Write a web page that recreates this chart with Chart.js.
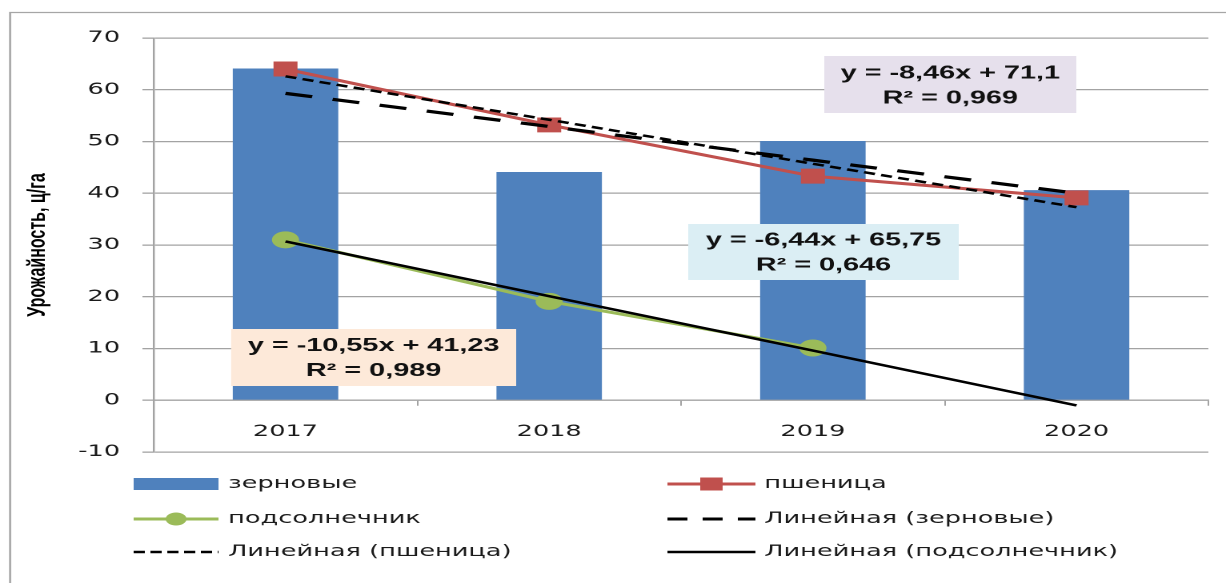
<!DOCTYPE html>
<html><head><meta charset="utf-8">
<script src="https://cdn.jsdelivr.net/npm/chart.js@4"></script>
<style>
html,body{margin:0;padding:0;background:#fff;overflow:hidden;}
#wrap{position:absolute;left:0;top:0;width:766px;height:583px;transform:scaleX(1.60052);transform-origin:0 0;}
</style></head><body>
<div id="wrap"><canvas id="c" width="766" height="583"></canvas></div>
<script>
// ---- data ----
const categories = ['2017', '2018', '2019', '2020'];
const grainValues = [64.1, 44.1, 50.1, 40.6];
const wheatValues = [64.0, 53.2, 43.3, 39.1];
const sunflowerValues = [31.0, 19.1, 10.1, null];
const grainTrend = [59.3, 52.9, 46.4, 40.0];
const wheatTrend = [62.6, 54.2, 45.7, 37.3];
const sunflowerTrend = [30.7, 20.1, 9.6, -1.0];
const yTicks = [-10, 0, 10, 20, 30, 40, 50, 60, 70];
const seriesNames = ['зерновые', 'пшеница', 'подсолнечник', 'Линейная (зерновые)', 'Линейная (пшеница)', 'Линейная (подсолнечник)'];
const wheatEquation = ['y = -8,46x + 71,1', 'R² = 0,969'];
const grainEquation = ['y = -6,44x + 65,75', 'R² = 0,646'];
const sunflowerEquation = ['y = -10,55x + 41,23', 'R² = 0,989'];
const axisTitle = 'Урожайность, ц/га';

const BLUE = '#4F81BD', RED = '#C0504D', GREEN = '#9BBB59', GRID = '#A3A3A3', TXT = '#1a1a1a';
const TICK_FONT = {family: 'DejaVu Sans', size: 16};

const overlay = {
  id: 'overlay',
  beforeDraw(chart) {
    const ctx = chart.ctx;
    ctx.save();
    ctx.strokeStyle = '#A6A6A6';
    ctx.lineWidth = 1.3;
    ctx.beginPath();
    ctx.moveTo(6.3, 600); ctx.lineTo(6.3, 12.5); ctx.lineTo(800, 12.5);
    ctx.stroke();
    ctx.restore();
  },
  afterDraw(chart) {
    const ctx = chart.ctx;
    ctx.save();
    // equation boxes
    const boxes = [
      {x1: 515, x2: 672.5, y1: 56, y2: 113, fill: '#E6E0EC', lines: wheatEquation, cy: [73.5, 98.5]},
      {x1: 430, x2: 599, y1: 224, y2: 280, fill: '#DBEEF4', lines: grainEquation, cy: [240.5, 265.5]},
      {x1: 144.4, x2: 322.5, y1: 329, y2: 386, fill: '#FDE9D9', lines: sunflowerEquation, cy: [346, 371]}
    ];
    boxes.forEach(b => {
      ctx.fillStyle = b.fill;
      ctx.fillRect(b.x1, b.y1, b.x2 - b.x1, b.y2 - b.y1);
      ctx.fillStyle = '#111';
      ctx.font = 'bold 18px "Liberation Sans", Arial, sans-serif';
      ctx.textAlign = 'center';
      ctx.textBaseline = 'middle';
      const cx = (b.x1 + b.x2) / 2;
      ctx.fillText(b.lines[0], cx, b.cy[0]);
      ctx.fillText(b.lines[1], cx, b.cy[1]);
    });
    // legend
    const rows = [484, 519, 552];
    const c1 = {x1: 83.5, x2: 136.5, tx: 142.5};
    const c2 = {x1: 417, x2: 472, tx: 477.5};
    function line(c, y, color, w, dash) {
      ctx.save();
      ctx.strokeStyle = color; ctx.lineWidth = w; ctx.setLineDash(dash || []);
      ctx.beginPath(); ctx.moveTo(c.x1, y); ctx.lineTo(c.x2, y); ctx.stroke();
      ctx.restore();
    }
    // 1 bars
    ctx.fillStyle = BLUE;
    ctx.fillRect(c1.x1, rows[0] - 6, c1.x2 - c1.x1, 12);
    // 2 wheat
    line(c2, rows[0], RED, 3);
    ctx.fillStyle = RED;
    ctx.fillRect((c2.x1 + c2.x2) / 2 - 7, rows[0] - 6.5, 14, 13);
    // 3 sunflower
    line(c1, rows[1], GREEN, 3);
    ctx.fillStyle = GREEN;
    ctx.beginPath(); ctx.arc((c1.x1 + c1.x2) / 2, rows[1], 6.5, 0, Math.PI * 2); ctx.fill();
    // 4 grain trend
    line(c2, rows[1], '#000', 3, [12.5, 9.5]);
    // 5 wheat trend
    line(c1, rows[2], '#000', 2.5, [7, 3.5]);
    // 6 sunflower trend
    line(c2, rows[2], '#000', 2.5);
    ctx.fillStyle = TXT;
    ctx.font = '16px "DejaVu Sans", sans-serif';
    ctx.textAlign = 'left';
    ctx.textBaseline = 'middle';
    ctx.fillText(seriesNames[0], c1.tx, rows[0]);
    ctx.fillText(seriesNames[1], c2.tx, rows[0]);
    ctx.fillText(seriesNames[2], c1.tx, rows[1]);
    ctx.fillText(seriesNames[3], c2.tx, rows[1]);
    ctx.fillText(seriesNames[4], c1.tx, rows[2]);
    ctx.fillText(seriesNames[5], c2.tx, rows[2]);
    ctx.restore();
  }
};

new Chart(document.getElementById('c'), {
  data: {
    labels: categories,
    datasets: [
      {type: 'line', label: seriesNames[5], data: sunflowerTrend, borderColor: '#000', borderWidth: 2.5,
       pointRadius: 0, fill: false, order: 1},
      {type: 'line', label: seriesNames[4], data: wheatTrend, borderColor: '#000', borderWidth: 2.5,
       borderDash: [7, 4], pointRadius: 0, fill: false, order: 2},
      {type: 'line', label: seriesNames[3], data: grainTrend, borderColor: '#000', borderWidth: 3.2,
       borderDash: [17, 13], pointRadius: 0, fill: false, order: 3},
      {type: 'line', label: seriesNames[2], data: sunflowerValues, borderColor: GREEN, backgroundColor: GREEN,
       borderWidth: 3, pointStyle: 'circle', pointRadius: 8.5, pointBorderWidth: 0, fill: false, order: 4, spanGaps: false},
      {type: 'line', label: seriesNames[1], data: wheatValues, borderColor: RED, backgroundColor: RED,
       borderWidth: 3, pointStyle: 'rect', pointRadius: 10.6, pointBorderWidth: 0, fill: false, order: 5},
      {type: 'bar', label: seriesNames[0], data: grainValues, backgroundColor: BLUE,
       barPercentage: 0.4, categoryPercentage: 1.0, order: 10}
    ]
  },
  options: {
    responsive: false,
    animation: false,
    devicePixelRatio: 2,
    layout: {padding: {left: 0, top: 38, right: 11, bottom: 131}},
    plugins: {legend: {display: false}, tooltip: {enabled: false}},
    scales: {
      x: {
        type: 'category',
        position: {y: 0},
        offset: true,
        grid: {display: true, drawOnChartArea: false, drawTicks: true, tickLength: 5, color: GRID, offset: true},
        border: {display: true, color: GRID, width: 1.3},
        ticks: {color: TXT, font: TICK_FONT, padding: 17, maxRotation: 0}
      },
      y: {
        min: yTicks[0], max: yTicks[yTicks.length - 1],
        afterFit(s) { s.width = 96; },
        afterBuildTicks(s) { s.ticks = yTicks.map(v => ({value: v})); },
        grid: {color: GRID, lineWidth: 1.3, drawTicks: true, tickLength: 7},
        border: {display: true, color: GRID, width: 1.2},
        ticks: {color: TXT, font: TICK_FONT, padding: 14},
        title: {display: true, text: axisTitle, color: '#000',
                font: {family: 'Liberation Sans', size: 16, weight: 'bold'}, padding: {top: 14, bottom: 0}}
      }
    }
  },
  plugins: [overlay]
});
</script>
</body></html>
